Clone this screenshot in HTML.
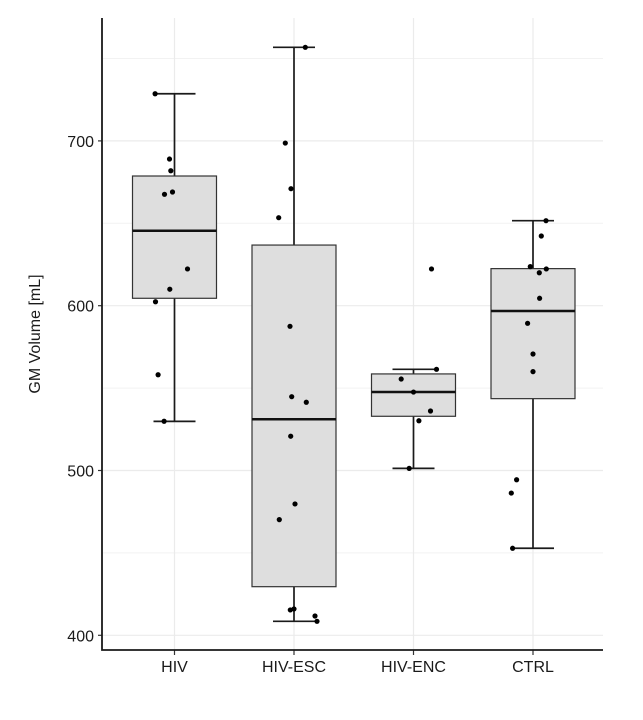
<!DOCTYPE html>
<html><head><meta charset="utf-8"><style>
body{margin:0;background:#fff;}
svg{display:block;font-family:"Liberation Sans",sans-serif;}
</style></head><body>
<svg id="chart" width="643" height="720"></svg>
<script>
const categories=["HIV","HIV-ESC","HIV-ENC","CTRL"];
const whiskerLow=[529.8,408.5,501.3,452.8];
const q1=[604.5,429.5,532.9,543.6];
const medians=[645.5,531.1,547.6,596.8];
const q3=[678.7,636.8,558.6,622.5];
const whiskerHigh=[728.6,756.8,561.4,651.6];
const pointsHIV=[728.6,689.0,681.9,667.6,669.0,622.3,610.0,602.4,558.1,529.9];
const pointsESC=[756.8,698.7,671.0,653.4,587.5,544.8,541.4,520.8,479.7,470.2,415.4,416.0,411.7,408.5];
const pointsENC=[622.3,561.4,555.5,547.6,536.1,530.2,501.3];
const pointsCTRL=[651.6,642.3,623.7,622.3,620.0,604.5,589.3,570.7,560.0,494.4,486.3,452.8];
const jitterHIV=[-19.4,-5,-3.7,-10,-2,13,-4.7,-19,-16.4,-10.4];
const jitterESC=[11.3,-8.7,-3,-15.3,-4,-2.3,12.3,-3.3,1,-14.7,-3.7,0,21,23];
const jitterENC=[18,23,-12.3,0,17,5.4,-4.3];
const jitterCTRL=[13,8.3,-2.7,13.3,6.3,6.6,-5.4,0,0,-16.4,-21.7,-20.4];
const yTicks=[400,500,600,700];
const yMinor=[450,550,650,750];

const NS="http://www.w3.org/2000/svg";
const svgEl=document.getElementById('chart');
const pLeft=102,pRight=603,pTop=18,pBottom=650;
function yS(v){return 305.7-(v-600)*1.648;}
function xS(i){return 174.5+i*119.5;}
function mk(t,a,p){const e=document.createElementNS(NS,t);for(const k in a)e.setAttribute(k,a[k]);(p||svgEl).appendChild(e);return e;}

yMinor.forEach(v=>{const l=mk('line',{x1:pLeft,x2:pRight,y1:yS(v),y2:yS(v),stroke:'#f2f2f2','stroke-width':1});

});
yTicks.forEach(v=>{const l=mk('line',{x1:pLeft,x2:pRight,y1:yS(v),y2:yS(v),stroke:'#ebebeb','stroke-width':1.2});

});
categories.forEach((c,i)=>{const l=mk('line',{x1:xS(i),x2:xS(i),y1:pTop,y2:pBottom,stroke:'#ebebeb','stroke-width':1.2});

});

const pts=[pointsHIV,pointsESC,pointsENC,pointsCTRL];
const jit=[jitterHIV,jitterESC,jitterENC,jitterCTRL];
categories.forEach((c,i)=>{
  const g=mk('g',{});
  
  
  const cx=xS(i),hw=42,cw=21;
  mk('line',{x1:cx,x2:cx,y1:yS(whiskerHigh[i]),y2:yS(q3[i]),stroke:'#1a1a1a','stroke-width':1.7},g);
  mk('line',{x1:cx,x2:cx,y1:yS(q1[i]),y2:yS(whiskerLow[i]),stroke:'#1a1a1a','stroke-width':1.7},g);
  mk('line',{x1:cx-cw,x2:cx+cw,y1:yS(whiskerHigh[i]),y2:yS(whiskerHigh[i]),stroke:'#1a1a1a','stroke-width':1.7},g);
  mk('line',{x1:cx-cw,x2:cx+cw,y1:yS(whiskerLow[i]),y2:yS(whiskerLow[i]),stroke:'#1a1a1a','stroke-width':1.7},g);
  mk('rect',{x:cx-hw,y:yS(q3[i]),width:2*hw,height:yS(q1[i])-yS(q3[i]),fill:'#dedede',stroke:'#333','stroke-width':1.2},g);
  mk('line',{x1:cx-hw,x2:cx+hw,y1:yS(medians[i]),y2:yS(medians[i]),stroke:'#111','stroke-width':2.5},g);
  pts[i].forEach((v,j)=>{const p=mk('circle',{cx:cx+jit[i][j],cy:yS(v),r:2.6,fill:'#000'});
    
    });
  const t=mk('text',{x:cx,y:672,'text-anchor':'middle','font-size':16,fill:'#1a1a1a'});
  t.textContent=c;
  
  
  const tk=mk('line',{x1:cx,x2:cx,y1:pBottom,y2:pBottom+5,stroke:'#333','stroke-width':1.2});
  
  
});
yTicks.forEach(v=>{
  const t=mk('text',{x:94,y:yS(v)+6,'text-anchor':'end','font-size':16,fill:'#1a1a1a'});
  t.textContent=v;
  
  
  const tk=mk('line',{x1:pLeft-4,x2:pLeft,y1:yS(v),y2:yS(v),stroke:'#333','stroke-width':1.2});
  
  
});
const ax=mk('path',{d:`M${pLeft},${pTop} V${pBottom} H${pRight}`,fill:'none',stroke:'#1a1a1a','stroke-width':1.8});


const yt=mk('text',{x:0,y:0,transform:'translate(40,334) rotate(-90)','text-anchor':'middle','font-size':16,fill:'#1a1a1a'});
yt.textContent='GM Volume [mL]';


</script>
</body></html>
